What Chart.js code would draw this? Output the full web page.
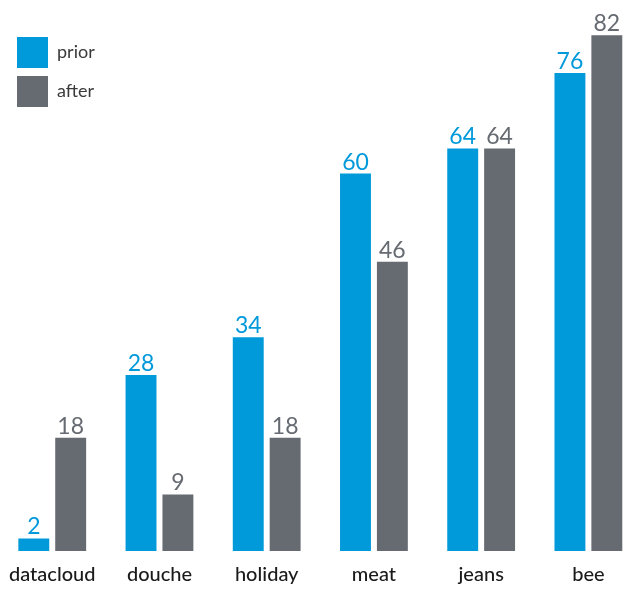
<!DOCTYPE html>
<html>
<head>
<meta charset="utf-8">
<script src="https://cdn.jsdelivr.net/npm/chart.js@4/dist/chart.umd.min.js"></script>
<style>
  html, body { margin: 0; padding: 0; background: #fff; overflow: hidden; width: 625px; height: 591px; }
  #wrap { position: absolute; left: -3px; top: 0; width: 645px; height: 591px; }
</style>
</head>
<body>
<div id="wrap"><canvas id="c"></canvas></div>
<script>
const categories = ["datacloud", "douche", "holiday", "meat", "jeans", "bee"];
const priorValues = [2, 28, 34, 60, 64, 76];
const afterValues = [18, 9, 18, 46, 64, 82];
const seriesNames = ["prior", "after"];

const BLUE = "#0099da";
const GRAY = "#666a71";
const FONT = "Lato, 'Open Sans', sans-serif";

const valueLabels = {
  id: "valueLabels",
  afterDatasetsDraw(chart) {
    const ctx = chart.ctx;
    ctx.save();
    ctx.font = "400 23px " + FONT;
    ctx.textAlign = "center";
    ctx.textBaseline = "alphabetic";
    chart.data.datasets.forEach((ds, i) => {
      const meta = chart.getDatasetMeta(i);
      ctx.fillStyle = ds.labelColor;
      meta.data.forEach((bar, j) => {
        ctx.fillText(String(ds.data[j]), bar.x, bar.y - 4);
      });
    });
    ctx.restore();
  }
};

const sideLegend = {
  id: "sideLegend",
  afterDraw(chart) {
    const ctx = chart.ctx;
    ctx.save();
    ctx.font = "400 18px " + FONT;
    ctx.textBaseline = "middle";
    ctx.textAlign = "left";
    chart.data.datasets.forEach((ds, i) => {
      const x = 20, y = 37 + i * 39;
      ctx.fillStyle = ds.backgroundColor;
      ctx.fillRect(x, y, 31, 31);
      ctx.fillStyle = "#3a3a3a";
      ctx.fillText(ds.label, x + 40, y + 15);
    });
    ctx.restore();
  }
};

new Chart(document.getElementById("c"), {
  type: "bar",
  data: {
    labels: categories,
    datasets: [
      { label: seriesNames[0], data: priorValues, backgroundColor: BLUE, labelColor: BLUE },
      { label: seriesNames[1], data: afterValues, backgroundColor: GRAY, labelColor: GRAY }
    ]
  },
  options: {
    responsive: true,
    maintainAspectRatio: false,
    animation: false,
    layout: { padding: 0 },
    categoryPercentage: 0.688,
    barPercentage: 0.838,
    plugins: { legend: { display: false }, tooltip: { enabled: false } },
    scales: {
      x: {
        grid: { display: false, drawTicks: false },
        border: { display: false },
        ticks: { color: "#1a1a1a", font: { family: FONT, size: 20, weight: "500" }, padding: 12 },
        afterFit(scale) { scale.height = 40; }
      },
      y: {
        display: false,
        min: 0,
        max: 87.6
      }
    }
  },
  plugins: [valueLabels, sideLegend]
});
</script>
</body>
</html>
